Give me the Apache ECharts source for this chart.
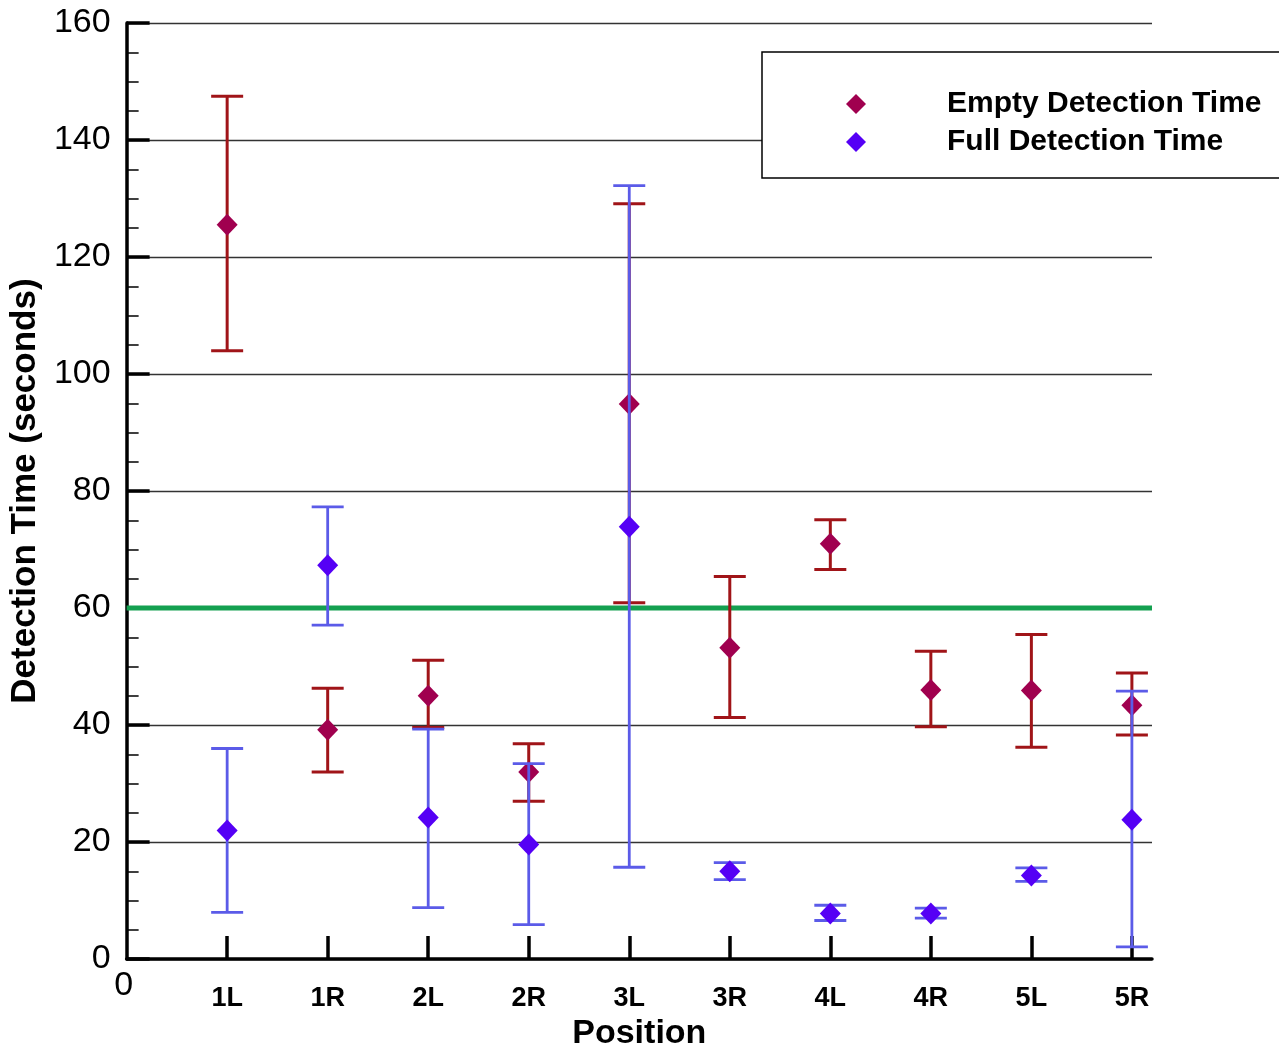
<!DOCTYPE html>
<html>
<head>
<meta charset="utf-8">
<script src="https://cdn.jsdelivr.net/npm/echarts@6/dist/echarts.min.js"></script>
<style>html,body{margin:0;padding:0;background:#fff;}#c{width:1279px;height:1056px;}</style>
</head>
<body>
<div id="c"></div>
<script>
const categories = ['1L','1R','2L','2R','3L','3R','4L','4R','5L','5R'];
const emptyMean = [125.5, 39.2, 45.0, 32.0, 94.9, 53.2, 71.0, 46.0, 45.9, 43.4];
const emptyLow  = [104.0, 32.0, 39.6, 27.0, 60.9, 41.3, 66.6, 39.7, 36.2, 38.3];
const emptyHigh = [147.5, 46.3, 51.1, 36.8, 129.1, 65.4, 75.1, 52.6, 55.5, 48.9];
const fullMean  = [22.0, 67.3, 24.2, 19.6, 73.9, 15.0, 7.8, 7.8, 14.3, 23.8];
const fullLow   = [8.0, 57.1, 8.8, 5.9, 15.7, 13.6, 6.6, 7.0, 13.3, 2.1];
const fullHigh  = [36.0, 77.3, 39.3, 33.4, 132.2, 16.5, 9.2, 8.7, 15.6, 45.8];
const threshold = 60;
const yTicks = [0, 20, 40, 60, 80, 100, 120, 140, 160];

const FONT = 'Liberation Sans, Arial, sans-serif';
const pos = categories.map((c, i) => i + 1);

function errRender(color, width) {
  return function (params, api) {
    const x = api.value(0);
    const pLo = api.coord([x, api.value(1)]);
    const pHi = api.coord([x, api.value(2)]);
    const hw = 16;
    const st = { stroke: color, lineWidth: width };
    return {
      type: 'group',
      children: [
        { type: 'line', shape: { x1: pLo[0], y1: pLo[1], x2: pHi[0], y2: pHi[1] }, style: st },
        { type: 'line', shape: { x1: pLo[0] - hw, y1: pLo[1], x2: pLo[0] + hw, y2: pLo[1] }, style: st },
        { type: 'line', shape: { x1: pHi[0] - hw, y1: pHi[1], x2: pHi[0] + hw, y2: pHi[1] }, style: st }
      ]
    };
  };
}

const chart = echarts.init(document.getElementById('c'), null, { renderer: 'canvas' });
chart.setOption({
  backgroundColor: '#ffffff',
  animation: false,
  textStyle: { fontFamily: FONT },
  grid: { left: 125, right: 127, top: 23, bottom: 91 },
  legend: {
    orient: 'vertical',
    left: 841, top: 84,
    itemWidth: 20, itemHeight: 20, itemGap: 8,
    data: ['Empty Detection Time', 'Full Detection Time'],
    textStyle: { fontFamily: FONT, fontSize: 30, fontWeight: 'bold', color: '#000', padding: [0, 0, 0, 76] },
    z: 10
  },
  graphic: [{
    type: 'rect', z: 5, zlevel: 0,
    shape: { x: 762, y: 52, width: 540, height: 126 },
    style: { fill: '#fff', stroke: '#000', lineWidth: 1.5 }
  }],
  xAxis: {
    type: 'value', min: 0, max: 10.2, interval: 1,
    name: 'Position', nameLocation: 'middle', nameGap: 56,
    nameTextStyle: { fontFamily: FONT, fontSize: 34, fontWeight: 'bold', color: '#000' },
    axisLine: { show: true, onZero: false, lineStyle: { color: '#000', width: 3.5 } },
    axisTick: { show: true, inside: true, length: 23, customValues: pos, lineStyle: { color: '#000', width: 3.5 } },
    splitLine: { show: false },
    axisLabel: {
      margin: 10,
      customValues: [0].concat(pos),
      formatter: function (v) {
        if (v === 0) return '{z|0}';
        const i = Math.round(v) - 1;
        return '{c|' + categories[i] + '}';
      },
      rich: {
        z: { fontFamily: FONT, fontSize: 34, color: '#000', padding: [0, 6, 0, 0] },
        c: { fontFamily: FONT, fontSize: 27, fontWeight: 'bold', color: '#000', padding: [16, 0, 0, 0] }
      }
    }
  },
  yAxis: {
    type: 'value', min: 0, max: 160, interval: 20,
    name: 'Detection Time (seconds)', nameLocation: 'middle', nameGap: 74,
    nameTextStyle: { fontFamily: FONT, fontSize: 35, fontWeight: 'bold', color: '#000' },
    axisLine: { show: true, lineStyle: { color: '#000', width: 3.5 } },
    axisTick: { show: true, inside: true, length: 23, lineStyle: { color: '#000', width: 3.5 } },
    minorTick: { show: true, splitNumber: 4, length: 12, lineStyle: { color: '#000', width: 1.5 } },
    splitLine: { show: true, lineStyle: { color: '#333', width: 1.3 } },
    axisLabel: {
      margin: 16, fontFamily: FONT, fontSize: 34, color: '#000',
      customValues: yTicks
    }
  },
  series: [
    {
      name: 'threshold', type: 'line', silent: true, symbol: 'none', z: 1,
      data: [[0, threshold], [10.2, threshold]],
      lineStyle: { color: '#14a050', width: 5 }
    },
    {
      name: 'emptyErr', type: 'custom', z: 2,
      renderItem: errRender('#a01418', 3),
      encode: { x: 0, y: [1, 2] },
      data: pos.map((p, i) => [p, emptyLow[i], emptyHigh[i]])
    },
    {
      name: 'Empty Detection Time', type: 'scatter', symbol: 'diamond', symbolSize: [21, 22], z: 3,
      itemStyle: { color: '#a0004f', opacity: 1 },
      data: pos.map((p, i) => [p, emptyMean[i]])
    },
    {
      name: 'fullErr', type: 'custom', z: 4,
      renderItem: errRender('#5b5be8', 2.8),
      encode: { x: 0, y: [1, 2] },
      data: pos.map((p, i) => [p, fullLow[i], fullHigh[i]])
    },
    {
      name: 'Full Detection Time', type: 'scatter', symbol: 'diamond', symbolSize: [21, 22], z: 5,
      itemStyle: { color: '#5500f5', opacity: 1 },
      data: pos.map((p, i) => [p, fullMean[i]])
    }
  ]
});
</script>
</body>
</html>
